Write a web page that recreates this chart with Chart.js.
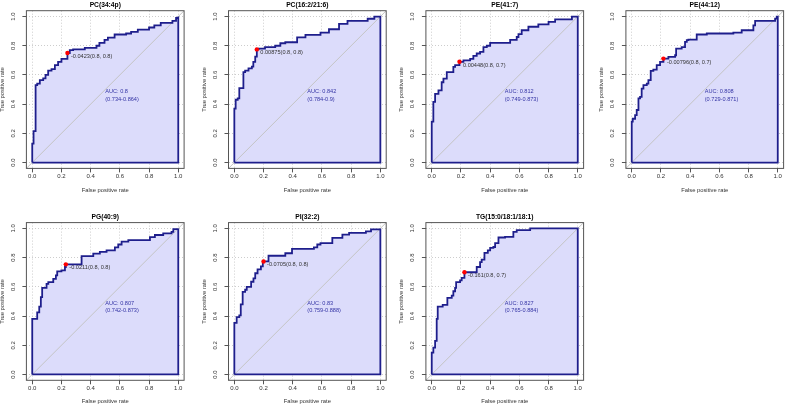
<!DOCTYPE html>
<html>
<head>
<meta charset="utf-8">
<script src="https://cdn.jsdelivr.net/npm/chart.js@4.4.1/dist/chart.umd.min.js"></script>
<style>
  html, body { margin: 0; padding: 0; background: #fff; }
  #wrap { position: relative; width: 789px; height: 406px; overflow: hidden; background: #fff; }
  #wrap canvas { position: absolute; }
</style>
</head>
<body>
<div id="wrap"></div>
<script>
// panel titles, axis ticks
const panelTitles = ['PC(34:4p)', 'PC(16:2/21:6)', 'PE(41:7)', 'PE(44:12)', 'PG(40:9)', 'PI(32:2)', 'TG(15:0/18:1/18:1)'];
const tickValues = [0, 0.2, 0.4, 0.6, 0.8, 1.0];

// ROC steps: at each fpr the tpr jumps up to the given value
const pc344pFpr = [0, 0.009, 0.023, 0.034, 0.052, 0.075, 0.091, 0.109, 0.132, 0.155, 0.177, 0.2, 0.241, 0.257, 0.28, 0.36, 0.44, 0.46, 0.495, 0.518, 0.564, 0.643, 0.677, 0.723, 0.8, 0.836, 0.88, 0.96, 0.985, 1];
const pc344pTpr = [0.13, 0.215, 0.53, 0.54, 0.565, 0.577, 0.6, 0.63, 0.64, 0.667, 0.69, 0.71, 0.75, 0.77, 0.775, 0.785, 0.8, 0.82, 0.84, 0.856, 0.877, 0.884, 0.895, 0.91, 0.925, 0.94, 0.957, 0.97, 0.99, 1];

const pc1622Fpr = [0, 0.009, 0.023, 0.034, 0.062, 0.074, 0.097, 0.12, 0.13, 0.143, 0.154, 0.166, 0.21, 0.28, 0.315, 0.349, 0.43, 0.487, 0.59, 0.648, 0.717, 0.775, 0.913, 0.959, 1];
const pc1622Tpr = [0.37, 0.43, 0.44, 0.51, 0.62, 0.63, 0.645, 0.657, 0.69, 0.725, 0.775, 0.78, 0.79, 0.8, 0.817, 0.824, 0.858, 0.874, 0.89, 0.913, 0.95, 0.97, 0.985, 1, 1];

const pe417Fpr = [0, 0.011, 0.023, 0.046, 0.068, 0.08, 0.103, 0.148, 0.16, 0.19, 0.217, 0.263, 0.285, 0.308, 0.331, 0.354, 0.377, 0.4, 0.537, 0.582, 0.594, 0.616, 0.662, 0.73, 0.8, 0.845, 0.96, 1];
const pe417Tpr = [0.28, 0.415, 0.47, 0.495, 0.55, 0.575, 0.62, 0.655, 0.667, 0.69, 0.7, 0.71, 0.73, 0.747, 0.758, 0.79, 0.8, 0.82, 0.84, 0.86, 0.88, 0.906, 0.93, 0.947, 0.963, 0.98, 1, 1];

const pe4412Fpr = [0, 0.007, 0.023, 0.034, 0.046, 0.057, 0.068, 0.08, 0.103, 0.114, 0.13, 0.148, 0.171, 0.194, 0.217, 0.251, 0.297, 0.304, 0.342, 0.365, 0.377, 0.388, 0.445, 0.514, 0.696, 0.753, 0.833, 0.845, 0.982, 0.993, 1];
const pe4412Tpr = [0.28, 0.3, 0.325, 0.36, 0.44, 0.45, 0.507, 0.53, 0.54, 0.565, 0.628, 0.637, 0.667, 0.69, 0.712, 0.724, 0.735, 0.78, 0.79, 0.826, 0.838, 0.842, 0.877, 0.884, 0.89, 0.906, 0.94, 0.97, 0.986, 1, 1];

const pg409Fpr = [0, 0.034, 0.048, 0.059, 0.068, 0.098, 0.11, 0.144, 0.162, 0.171, 0.2, 0.224, 0.23, 0.338, 0.418, 0.463, 0.509, 0.566, 0.589, 0.612, 0.658, 0.806, 0.84, 0.897, 0.954, 0.966, 1];
const pg409Tpr = [0.38, 0.425, 0.464, 0.53, 0.593, 0.62, 0.632, 0.655, 0.678, 0.706, 0.713, 0.736, 0.754, 0.81, 0.828, 0.84, 0.85, 0.87, 0.89, 0.91, 0.92, 0.94, 0.955, 0.966, 0.977, 0.995, 1];

const pi322Fpr = [0, 0.016, 0.034, 0.044, 0.057, 0.074, 0.085, 0.115, 0.131, 0.143, 0.159, 0.182, 0.195, 0.234, 0.349, 0.395, 0.545, 0.568, 0.59, 0.671, 0.74, 0.786, 0.901, 0.936, 1];
const pi322Tpr = [0.353, 0.393, 0.404, 0.48, 0.566, 0.58, 0.6, 0.635, 0.658, 0.693, 0.72, 0.74, 0.774, 0.813, 0.83, 0.86, 0.87, 0.89, 0.9, 0.935, 0.958, 0.97, 0.98, 0.993, 1];

const tg150Fpr = [0, 0.011, 0.023, 0.034, 0.041, 0.075, 0.107, 0.137, 0.148, 0.16, 0.167, 0.194, 0.205, 0.224, 0.308, 0.331, 0.342, 0.361, 0.384, 0.4, 0.422, 0.434, 0.457, 0.502, 0.559, 0.582, 0.674, 1];
const tg150Tpr = [0.15, 0.184, 0.23, 0.38, 0.465, 0.476, 0.524, 0.54, 0.57, 0.593, 0.632, 0.644, 0.662, 0.7, 0.736, 0.77, 0.786, 0.832, 0.85, 0.867, 0.873, 0.9, 0.938, 0.942, 0.977, 0.989, 1, 1];

// best threshold (fpr, tpr) and its label
const thresFpr = [0.241, 0.154, 0.19, 0.217, 0.23, 0.2, 0.224];
const thresTpr = [0.75, 0.775, 0.69, 0.712, 0.754, 0.774, 0.7];
const thresLabels = ['-0.0423(0.8, 0.8)', '0.00875(0.8, 0.8)', '0.00448(0.8, 0.7)', '-0.00796(0.8, 0.7)', '-0.0211(0.8, 0.8)', '-0.0705(0.8, 0.8)', '-0.161(0.8, 0.7)'];

// AUC and its CI
const aucValues = ['0.8', '0.842', '0.812', '0.808', '0.807', '0.83', '0.827'];
const aucCI = ['0.734-0.864', '0.784-0.9', '0.749-0.873', '0.729-0.871', '0.742-0.873', '0.759-0.888', '0.765-0.884'];

const fprList = [pc344pFpr, pc1622Fpr, pe417Fpr, pe4412Fpr, pg409Fpr, pi322Fpr, tg150Fpr];
const tprList = [pc344pTpr, pc1622Tpr, pe417Tpr, pe4412Tpr, pg409Tpr, pi322Tpr, tg150Tpr];

// layout of the grid of panels (page pixels of each plot box)
const boxLefts = [26.4, 228.5, 425.9, 625.9];
const boxTops = [10.7, 222.6];
const boxSize = 157.7;
const FONT = '"Liberation Sans", Arial, sans-serif';
const LINE = '#1e1e8c';

const panelDecor = {
  id: 'panelDecor',
  afterDatasetsDraw(chart, args, o) {
    const { ctx, chartArea: a, scales: { x, y } } = chart;
    ctx.save();
    ctx.strokeStyle = '#555';
    ctx.lineWidth = 1;
    ctx.strokeRect(a.left, a.top, a.width, a.height);

    ctx.fillStyle = '#000';
    ctx.font = 'bold 6.7px ' + FONT;
    ctx.textAlign = 'center';
    ctx.textBaseline = 'middle';
    ctx.fillText(o.title, (a.left + a.right) / 2, a.top - 5.8);

    ctx.textAlign = 'left';
    ctx.font = '5.6px ' + FONT;
    ctx.fillStyle = '#333';
    ctx.fillText(o.thresLabel, x.getPixelForValue(o.thres[0]) + 3.5, y.getPixelForValue(o.thres[1]) + 3.5);

    ctx.fillStyle = '#3535a5';
    const ax = x.getPixelForValue(0.5);
    const ay = y.getPixelForValue(0.485);
    ctx.fillText('AUC: ' + o.auc, ax, ay);
    ctx.fillText('(' + o.ci + ')', ax, ay + 7.3);
    ctx.restore();
  }
};

function axisOpts(isX) {
  return {
    type: 'linear',
    min: -0.04,
    max: 1.04,
    afterBuildTicks: (s) => { s.ticks = tickValues.map(v => ({ value: v })); },
    afterFit: (s) => { if (isX) s.height = s.options.fixedSize; else s.width = s.options.fixedSize; },
    grid: {
      color: 'rgba(200,200,200,0.9)',
      lineWidth: 1,
      tickLength: 4,
      tickColor: '#555',
      tickWidth: 1
    },
    border: { display: false, dash: [1, 2] },
    ticks: {
      autoSkip: false,
      color: '#333',
      font: { family: FONT, size: 6 },
      padding: isX ? 4.2 : 5.2,
      minRotation: isX ? 0 : 90,
      maxRotation: isX ? 0 : 90,
      crossAlign: 'center',
      callback: (v) => v.toFixed(1)
    },
    title: {
      display: true,
      text: isX ? 'False positive rate' : 'True positive rate',
      color: '#333',
      font: { family: FONT, size: 5.8 },
      padding: isX ? { top: 0, bottom: 1 } : { top: 1.4, bottom: 0 }
    }
  };
}

const wrap = document.getElementById('wrap');

panelTitles.forEach((title, i) => {
  const col = i % 4, row = Math.floor(i / 4);
  const bl = boxLefts[col], bt = boxTops[row];
  const cl = Math.floor(bl) - 28, ct = Math.floor(bt - 10.7);
  const yW = bl - cl, padTop = bt - ct;
  const cw = 192, ch = 195;
  const xH = ch - padTop - boxSize;

  const canvas = document.createElement('canvas');
  canvas.width = cw; canvas.height = ch;
  canvas.style.left = cl + 'px';
  canvas.style.top = ct + 'px';
  canvas.style.width = cw + 'px';
  canvas.style.height = ch + 'px';
  wrap.appendChild(canvas);

  const curve = fprList[i].map((f, k) => ({ x: f, y: tprList[i][k] }));
  const start = { x: 0, y: 0 };
  const outline = [start].concat(curve, [{ x: 1, y: 0 }, { x: 0, y: 0 }]);

  const xo = axisOpts(true); xo.fixedSize = xH;
  const yo = axisOpts(false); yo.fixedSize = yW;

  new Chart(canvas.getContext('2d'), {
    type: 'line',
    data: {
      datasets: [
        {
          data: [{ x: thresFpr[i], y: thresTpr[i] }],
          showLine: false,
          pointRadius: 2.2,
          pointBackgroundColor: '#ff0000',
          pointBorderWidth: 0
        },
        {
          data: outline,
          stepped: 'before',
          borderColor: LINE,
          borderWidth: 1.8,
          pointRadius: 0,
          fill: false
        },
        {
          data: [{ x: -0.04, y: -0.04 }, { x: 1.04, y: 1.04 }],
          borderColor: '#c4c4c4',
          borderWidth: 1,
          pointRadius: 0,
          fill: false
        },
        {
          data: [start].concat(curve),
          stepped: 'before',
          borderWidth: 0,
          borderColor: 'rgba(0,0,0,0)',
          backgroundColor: '#dcdcfb',
          pointRadius: 0,
          fill: 'origin'
        }
      ]
    },
    options: {
      responsive: false,
      animation: false,
      events: [],
      layout: { padding: { top: padTop, right: cw - yW - boxSize, left: 0, bottom: 0 } },
      plugins: {
        legend: { display: false },
        tooltip: { enabled: false },
        panelDecor: {
          title: title,
          thresLabel: thresLabels[i],
          thres: [thresFpr[i], thresTpr[i]],
          auc: aucValues[i],
          ci: aucCI[i]
        }
      },
      scales: { x: xo, y: yo }
    },
    plugins: [panelDecor]
  });
});
</script>
</body>
</html>
